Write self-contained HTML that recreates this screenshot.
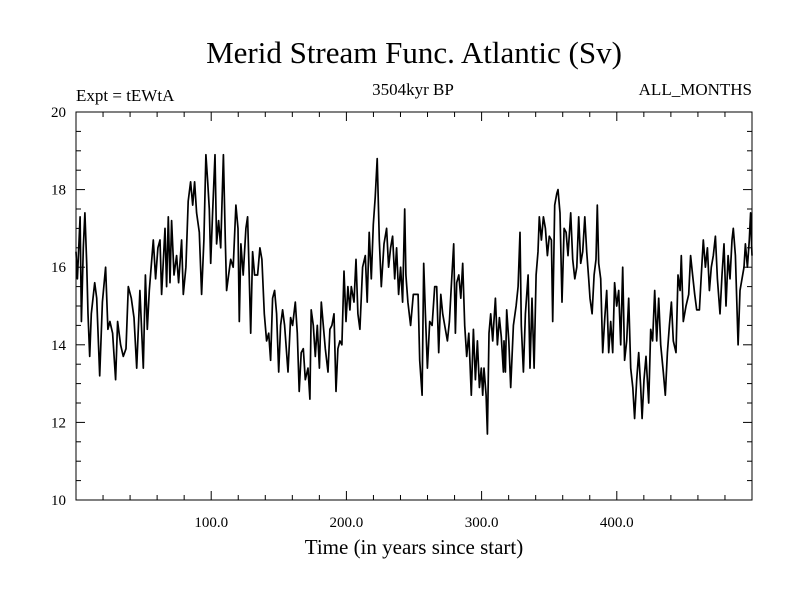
<!DOCTYPE html>
<html><head><meta charset="utf-8"><style>
body{margin:0;background:#fff;}
svg{display:block;font-family:"Liberation Serif",serif;}
</style></head><body>
<svg id="chart" width="800" height="600" viewBox="0 0 800 600">
<rect width="800" height="600" fill="#fff"/>
<text x="414" y="63" font-size="31" text-anchor="middle">Merid Stream Func. Atlantic (Sv)</text>
<text x="76" y="101" font-size="17">Expt = tEWtA</text>
<text x="413" y="95" font-size="17" text-anchor="middle">3504kyr BP</text>
<text x="752" y="95" font-size="17" text-anchor="end">ALL_MONTHS</text>
<text x="414" y="554" font-size="21" text-anchor="middle">Time (in years since start)</text>
<g id="ticks"></g>
<g id="labels"></g>
<path id="series" fill="none" stroke="#000" stroke-width="1.7" stroke-linejoin="round"/>
<rect x="76" y="112" width="676" height="388" fill="none" stroke="#000" stroke-width="1"/>
</svg>
<script>
const years=[0,1,3,4,5.4,6.6,7.9,8.9,10.1,11.3,13.8,15.3,17.5,19.5,21.9,23.6,25.1,27.1,29.3,30.8,33,35,37,38.7,40.9,42.9,44.9,47.3,49.8,51.3,52.7,54.2,57.2,58.9,60.6,
62.1,63.3,65.8,67,68.3,69.5,70.7,72.5,74.4,75.9,78.1,79.4,81.3,83,84.8,86.3,87.7,89.2,91.2,92.9,94.6,96.1,97.4,98.6,99.6,101,102.8,104,105.5,107,109,110.4,111.4,112.9,114.4,116.3,118.3,119.8,120.8,122,123.7,
125.7,126.9,128.2,129.2,130.6,132.1,134.3,136,137.5,139.3,141,142.5,143.9,145.4,146.9,148.4,149.9,151.3,152.8,154.3,156.8,158.7,160.2,162.2,163.7,165.1,166.6,168.1,169.6,171.6,173,174,175.5,177,178.5,180,181.4,182.9,184.4,186.4,187.8,
189.3,190.8,192.3,193.7,195.2,196.7,198.2,199.7,201.1,202.6,203.6,205.6,207.1,208.5,210,212,214,215.4,216.9,218.4,219.9,221.3,222.8,224.3,225.8,227.8,229.7,231.2,232.7,234.2,235.7,237.1,238.6,240.1,241.6,243.1,244,245.5,247.5,249.5,251.9,
253,254.2,256,257.2,258.4,259.9,261.6,263.4,265.3,266.8,268.3,269.8,271.2,272.7,274.7,276.2,277.7,279.4,280.6,281.6,283.1,284.6,286,287.5,289,290.5,292.4,293.9,295.4,296.9,298.4,299.8,300.8,301.8,303.3,304.3,305.5,306.7,308.2,310.2,311.7,313.2,314.6,316.1,
316.6,317.6,318.6,320.1,321.5,323.5,325.5,327,328.4,329.4,330.9,332.4,334.4,335.8,337.3,338.8,340.3,341.7,342.7,344.2,345.7,347.2,348.7,350.1,351.6,352.6,354.1,355.6,356.5,358,359.5,361,362.5,363.9,365.9,367.4,368.9,370.4,371.8,373.3,374.8,376.3,377.7,379.2,
380.2,381.7,383.2,384.6,385.6,386.6,388.1,389.6,391.1,392.5,394,395.5,397,398.4,399.9,401.4,402.9,404.4,405.8,407.3,408.8,410.3,411.8,413.2,414.7,416.2,417.7,418.7,420.1,421.6,423.6,425.1,426.5,428,429.5,431,432.5,434.4,435.9,437.4,438.9,440.4,441.8,
443.8,445.3,446.8,447.7,449.2,451.2,453.2,454.6,456.1,457.6,459.1,461.1,462.5,464,465.5,467,468.5,469.9,471.4,472.9,474.4,476.3,477.8,479.3,480.8,482.3,483.7,485.2,486.2,487.7,489.7,491.1,492.6,494.1,495.1,496.6,498,499,500];
const values=[16.4,15.7,17.3,14.6,16.5,17.4,16.1,14.8,13.7,14.8,15.6,15.2,13.2,15.1,16.0,14.4,14.6,14.3,13.1,14.6,14.0,13.7,13.9,15.5,15.2,14.7,13.4,15.4,13.4,15.8,14.4,15.4,16.7,15.7,16.5,
16.7,15.3,17.0,15.5,17.3,15.6,17.2,15.8,16.3,15.6,16.7,15.3,16.0,17.7,18.2,17.6,18.2,17.4,16.9,15.3,16.7,18.9,18.2,17.5,16.1,17.4,18.9,16.6,17.2,16.5,18.9,16.7,15.4,15.8,16.2,16.0,17.6,17.0,14.6,16.6,15.8,
17.0,17.3,15.7,14.3,16.4,15.8,15.8,16.5,16.2,14.8,14.1,14.3,13.6,15.2,15.4,14.8,13.3,14.5,14.9,14.5,13.3,14.7,14.5,15.1,14.3,12.8,13.8,13.9,13.1,13.4,12.6,14.9,14.5,13.7,14.5,13.4,15.1,14.5,13.9,13.3,14.4,
14.5,14.8,12.8,13.9,14.1,14.0,15.9,14.6,15.5,14.9,15.5,15.1,16.2,14.8,14.4,16.0,16.3,15.1,16.9,15.7,17.1,17.8,18.8,16.7,15.5,16.6,17.0,16.0,16.5,16.8,15.7,16.5,15.3,16.0,15.1,17.5,15.8,15.1,14.5,15.3,15.3,
15.3,13.6,12.7,16.1,14.8,13.4,14.6,14.5,15.5,15.5,13.8,15.3,14.8,14.5,14.1,14.6,15.6,16.6,14.3,15.6,15.8,15.2,16.1,14.5,13.7,14.3,12.7,14.4,13.1,14.1,12.9,13.4,12.7,13.4,12.7,11.7,14.3,14.8,14.1,15.2,14.0,14.7,14.2,13.3,
14.1,13.3,14.9,14.1,12.9,14.5,15.0,15.5,16.9,14.5,13.3,14.8,15.8,13.4,15.2,13.4,15.8,16.4,17.3,16.7,17.3,17.0,16.3,16.8,16.7,14.6,17.6,17.9,18.0,17.4,15.1,17.0,16.9,16.3,17.4,16.2,15.7,16.0,17.3,16.1,16.4,17.3,16.4,15.7,
15.2,14.8,15.8,16.2,17.6,16.1,15.7,13.8,14.7,15.4,13.8,14.6,13.8,15.6,15.0,15.4,14.0,16.0,13.6,14.1,15.2,13.4,12.9,12.1,13.1,13.8,12.9,12.1,13.1,13.7,12.5,14.4,14.1,15.4,14.1,15.2,14.0,13.3,12.7,13.8,14.5,15.1,14.1,
13.8,15.8,15.4,16.3,14.6,15.0,15.3,16.3,15.8,15.3,14.9,14.9,15.8,16.7,16.0,16.5,15.4,16.0,16.3,16.8,15.7,14.8,15.8,16.6,15.0,16.3,15.7,16.7,17.0,16.3,14.0,15.4,15.7,16.0,16.6,16.0,16.7,17.4,16.3];
const xTicks=[100,200,300,400];
const yTicks=[10,12,14,16,18,20];
const X0=76,X1=752,Y0=500,Y1=112,XMIN=0,XMAX=500,YMIN=10,YMAX=20;
const sx=v=>X0+(v-XMIN)/(XMAX-XMIN)*(X1-X0);
const sy=v=>Y0-(v-YMIN)/(YMAX-YMIN)*(Y0-Y1);
const NS='http://www.w3.org/2000/svg';
const tg=document.getElementById('ticks'),lg=document.getElementById('labels');
function ln(x1,y1,x2,y2){const l=document.createElementNS(NS,'line');l.setAttribute('x1',x1);l.setAttribute('y1',y1);l.setAttribute('x2',x2);l.setAttribute('y2',y2);l.setAttribute('stroke','#000');l.setAttribute('stroke-width','1');


tg.appendChild(l);}
for(let t=20;t<XMAX;t+=20){const x=sx(t);const len=(t%100===0)?9:5;ln(x,Y0,x,Y0-len);ln(x,Y1,x,Y1+len);}
for(let v=10.5;v<20;v+=0.5){const y=sy(v);const len=(v%2===0)?9:5;ln(X0,y,X0+len,y);ln(X1,y,X1-len,y);}
xTicks.forEach(t=>{const e=document.createElementNS(NS,'text');e.setAttribute('x',sx(t));e.setAttribute('y',527);e.setAttribute('font-size','15');e.setAttribute('text-anchor','middle');e.textContent=t.toFixed(1);


lg.appendChild(e);});
yTicks.forEach(t=>{const e=document.createElementNS(NS,'text');e.setAttribute('x',66);e.setAttribute('y',sy(t)+5);e.setAttribute('font-size','15');e.setAttribute('text-anchor','end');e.textContent=t;


lg.appendChild(e);});
let d='';years.forEach((yr,i)=>{d+=(i?'L':'M')+sx(yr).toFixed(1)+' '+sy(values[i]).toFixed(1);});
document.getElementById('series').setAttribute('d',d);
</script>
</body></html>
